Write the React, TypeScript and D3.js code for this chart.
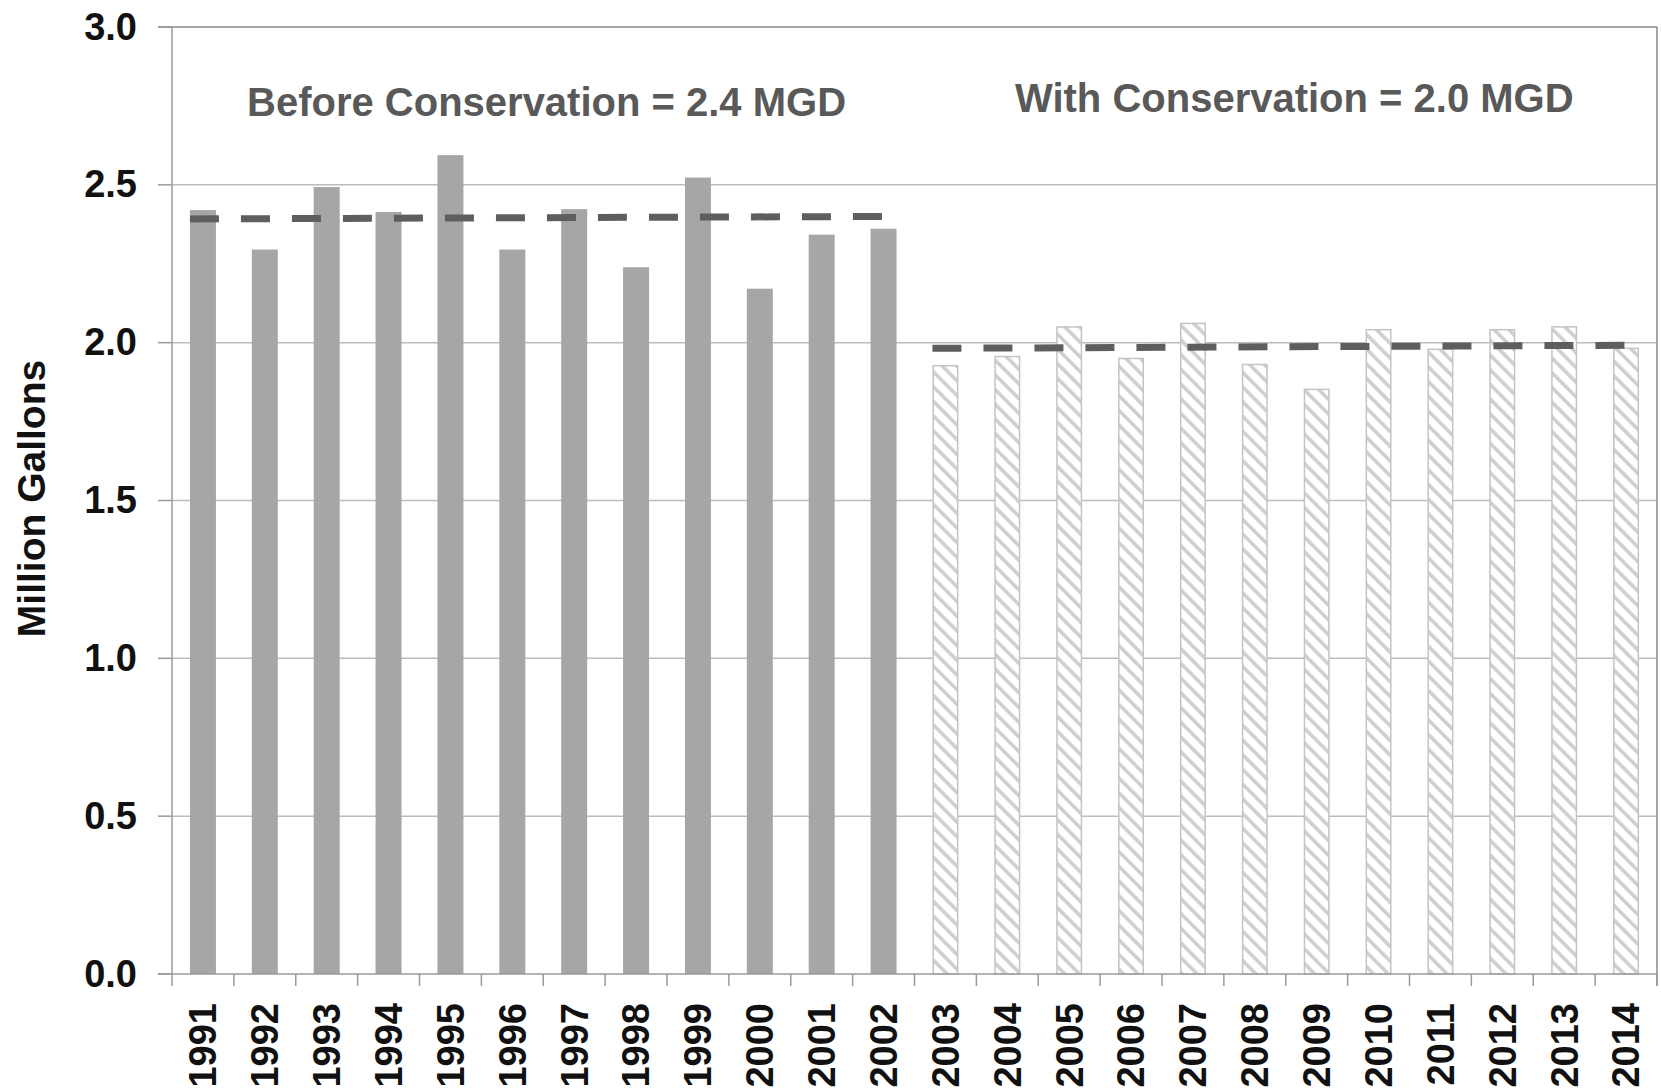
import React from "react";
import * as d3 from "d3";

const years = [
  "1991", "1992", "1993", "1994", "1995", "1996", "1997", "1998", "1999", "2000", "2001", "2002",
  "2003", "2004", "2005", "2006", "2007", "2008", "2009", "2010", "2011", "2012", "2013", "2014",
];
const beforeYears = years.slice(0, 12);
const withYears = years.slice(12);
const beforeValues = [2.42, 2.295, 2.493, 2.414, 2.594, 2.295, 2.423, 2.239, 2.523, 2.171, 2.342, 2.361];
const withValues = [1.927, 1.956, 2.05, 1.95, 2.061, 1.931, 1.852, 2.041, 1.979, 2.041, 2.05, 1.982];
const beforeTrend = [2.392, 2.4];
const withTrend = [1.982, 1.992];
const yTicks = [0, 0.5, 1.0, 1.5, 2.0, 2.5, 3.0];
const beforeLabel = "Before Conservation = 2.4 MGD";
const withLabel = "With Conservation = 2.0 MGD";
const yTitle = "Million Gallons";

const W = 1661;
const H = 1088;
const left = 172;
const right = 1657;
const top = 27;
const bottom = 974;
const FONT = "'Liberation Sans', Arial, Helvetica, sans-serif";

export default function App() {
  const x = d3.scaleBand<string>().domain(years).range([left, right]).paddingInner(0.58).paddingOuter(0.29);
  const y = d3.scaleLinear().domain([0, 3]).range([bottom, top]);
  const bw = x.bandwidth();
  const step = x.step();
  const boundaries = d3.range(years.length + 1).map((i) => left + i * step);

  const trendLine = (ys: string[], vals: number[]) => {
    const x0 = x(ys[0])!;
    const x1 = x(ys[ys.length - 1])! + bw;
    const line = d3.line<[number, number]>().x((d) => d[0]).y((d) => d[1]);
    return line([
      [x0, y(vals[0])],
      [x1, y(vals[1])],
    ])!;
  };

  return (
    <svg
      width={W}
      height={H}
      style={{ position: "absolute", left: 0, top: 0, background: "#fff" }}
      fontFamily={FONT}
    >
      <defs>
        <pattern id="hatch" patternUnits="userSpaceOnUse" width={10.4} height={10.4} patternTransform="rotate(-45)">
          <rect x={0} y={0} width={10.4} height={10.4} fill="#ffffff" />
          <rect x={0} y={0} width={3.6} height={10.4} fill="#cfcfcf" />
        </pattern>
      </defs>

      {/* gridlines */}
      {yTicks
        .filter((t) => t > 0 && t < 3)
        .map((t) => (
          <line key={"g" + t} x1={left} x2={right} y1={y(t)} y2={y(t)} stroke="#bcbcbc" strokeWidth={1.5} />
        ))}

      {/* before bars */}
      {beforeYears.map((yr, i) => (
        <rect
          key={yr}
          x={x(yr)}
          y={y(beforeValues[i])}
          width={bw}
          height={y(0) - y(beforeValues[i])}
          fill="#a6a6a6"
        />
      ))}

      {/* with-conservation bars */}
      {withYears.map((yr, i) => (
        <rect
          key={yr}
          x={x(yr)! + 0.75}
          y={y(withValues[i])}
          width={bw - 1.5}
          height={y(0) - y(withValues[i])}
          fill="url(#hatch)"
          stroke="#c4c4c4"
          strokeWidth={1.5}
        />
      ))}

      {/* trend lines */}
      <path d={trendLine(beforeYears, beforeTrend)} stroke="#5e5e5e" strokeWidth={7} strokeDasharray="29 22" fill="none" />
      <path d={trendLine(withYears, withTrend)} stroke="#5e5e5e" strokeWidth={7} strokeDasharray="29 22" fill="none" />

      {/* plot frame top & right */}
      <line x1={left - 14} x2={right} y1={y(3)} y2={y(3)} stroke="#8a8a8a" strokeWidth={1.5} />
      <line x1={right} x2={right} y1={y(3)} y2={y(0) + 12} stroke="#8a8a8a" strokeWidth={1.5} />

      {/* y axis */}
      <line x1={left} x2={left} y1={y(3)} y2={y(0)} stroke="#9a9a9a" strokeWidth={1.5} />
      {yTicks.map((t) => (
        <g key={"yt" + t}>
          <line x1={left - 14} x2={left} y1={y(t)} y2={y(t)} stroke="#9a9a9a" strokeWidth={1.5} />
          <text x={left - 35} y={y(t)} dy="0.33em" textAnchor="end" fontSize={38} fontWeight="bold" fill="#111">
            {t.toFixed(1)}
          </text>
        </g>
      ))}

      {/* x axis */}
      <line x1={left - 14} x2={right} y1={y(0)} y2={y(0)} stroke="#9a9a9a" strokeWidth={1.5} />
      {boundaries.map((bx, i) => (
        <line key={"xt" + i} x1={bx} x2={bx} y1={y(0)} y2={y(0) + 12} stroke="#9a9a9a" strokeWidth={1.5} />
      ))}
      {years.map((yr) => (
        <text
          key={"xl" + yr}
          transform={`translate(${x(yr)! + bw / 2},${y(0) + 29}) rotate(-90)`}
          dy="0.35em"
          textAnchor="end"
          fontSize={38}
          fontWeight="bold"
          fill="#111"
        >
          {yr}
        </text>
      ))}

      {/* y title */}
      <text
        transform={`translate(45,${(y(0) + y(3)) / 2 - 2}) rotate(-90)`}
        textAnchor="middle"
        fontSize={39}
        fontWeight="bold"
        fill="#111"
      >
        {yTitle}
      </text>

      {/* annotations */}
      <text x={247} y={116} fontSize={40} fontWeight="bold" fill="#595959">
        {beforeLabel}
      </text>
      <text x={1015} y={112} fontSize={40} fontWeight="bold" fill="#595959">
        {withLabel}
      </text>
    </svg>
  );
}
